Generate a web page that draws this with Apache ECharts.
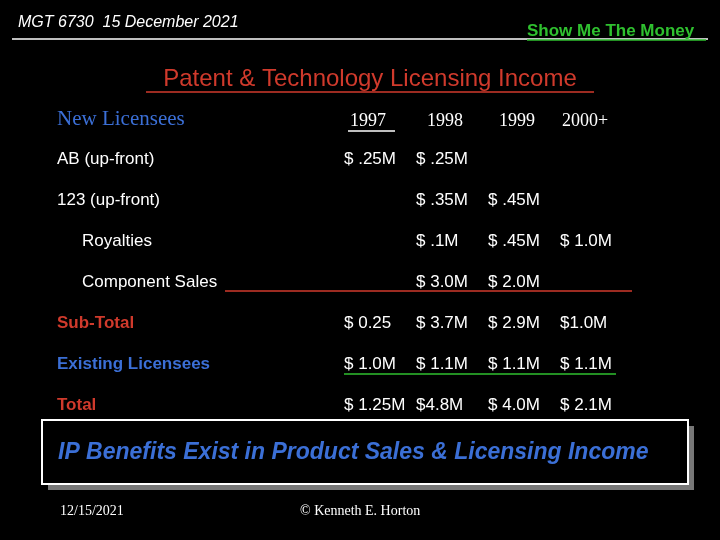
<!DOCTYPE html>
<html>
<head>
<meta charset="utf-8">
<script src="https://cdn.jsdelivr.net/npm/echarts@6/dist/echarts.min.js"></script>
<style>html,body{margin:0;background:#000}#main{width:720px;height:540px}</style>
</head>
<body>
<div id="main"></div>
<script>
// table data
const years = ['1997', '1998', '1999', '2000+'];
const rowLabels = ['AB (up-front)', '123 (up-front)', 'Royalties', 'Component Sales', 'Sub-Total', 'Existing Licensees', 'Total'];
const rowValues = [
  ['$ .25M', '$ .25M', '', ''],
  ['', '$ .35M', '$ .45M', ''],
  ['', '$ .1M', '$ .45M', '$ 1.0M'],
  ['', '$ 3.0M', '$ 2.0M', ''],
  ['$ 0.25', '$ 3.7M', '$ 2.9M', '$1.0M'],
  ['$ 1.0M', '$ 1.1M', '$ 1.1M', '$ 1.1M'],
  ['$ 1.25M', '$4.8M', '$ 4.0M', '$ 2.1M']
];

const RED = '#d03a2c', BLUE = '#3b6fd6', GREEN = '#2fc02f';
const rowIndent = [57, 57, 82, 82, 57, 57, 57];
const rowColor = ['#fff', '#fff', '#fff', '#fff', RED, BLUE, RED];
const rowBold = [false, false, false, false, true, true, true];
const rowY = [159, 200, 241, 282, 323, 364, 405];
const yearX = [350, 427, 499, 562];
const valX = [344, 416, 488, 560];

const els = [];
const txt = (x, y, s, style) => els.push({
  type: 'text', x, y,
  style: Object.assign({text: s, fill: '#fff', font: '17px Arial', verticalAlign: 'middle'}, style)
});
const line = (x1, y1, x2, y2, c) => els.push({
  type: 'line', shape: {x1, y1, x2, y2}, style: {stroke: c || '#fff', lineWidth: 1.5}
});

txt(18, 23, 'MGT 6730  15 December 2021', {font: 'italic 16px Arial'});
line(12, 39, 708, 39);
txt(527, 31, 'Show Me The Money', {fill: GREEN, font: 'bold 17px Arial'});
line(527, 40, 706, 40, GREEN);
txt(370, 79, 'Patent & Technology Licensing Income', {fill: RED, font: '24px Arial', align: 'center'});
line(146, 92, 594, 92, RED);
txt(57, 119, 'New Licensees', {fill: BLUE, font: '21px "Liberation Serif"'});
years.forEach((y, i) => txt(yearX[i], 121, y, {font: '18px "Liberation Serif"'}));
line(348, 131, 395, 131);

rowLabels.forEach((lab, r) => {
  txt(rowIndent[r], rowY[r], lab, {fill: rowColor[r], font: (rowBold[r] ? 'bold ' : '') + '17px Arial'});
  rowValues[r].forEach((v, c) => { if (v) txt(valX[c], rowY[r], v); });
});
// component sales underline
line(225, 291, 632, 291, RED);
// existing licensees underline
line(344, 374, 616, 374, GREEN);

// callout box with shadow
els.push({type: 'rect', shape: {x: 48, y: 426, width: 646, height: 64}, style: {fill: '#777'}});
els.push({type: 'rect', shape: {x: 42, y: 420, width: 646, height: 64}, style: {fill: '#000', stroke: '#fff', lineWidth: 2}});
txt(58, 453, 'IP Benefits Exist in Product Sales & Licensing Income', {fill: BLUE, font: 'italic bold 23px Arial'});

txt(60, 511, '12/15/2021', {font: '14px "Liberation Serif"'});
txt(300, 511, '© Kenneth E. Horton', {font: '14px "Liberation Serif"'});

const chart = echarts.init(document.getElementById('main'));
chart.setOption({backgroundColor: '#000', graphic: {elements: els}});
</script>
</body>
</html>
